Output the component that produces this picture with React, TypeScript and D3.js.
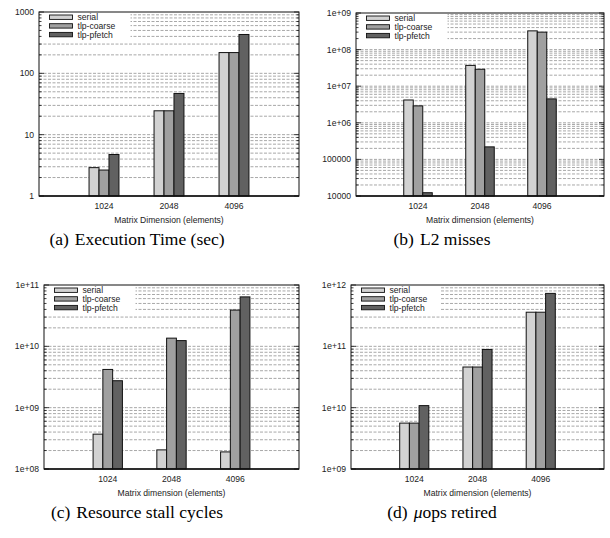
import React from "react";
import * as d3 from "d3";

const categories = ["1024", "2048", "4096"];
const seriesNames = ["serial", "tlp-coarse", "tlp-pfetch"];
const seriesFill = ["#d2d2d2", "#a0a0a0", "#616161"];

// (a) execution time in seconds
const execSerial = [2.9, 24.5, 218];
const execCoarse = [2.65, 24.5, 218];
const execPfetch = [4.75, 47, 430];

// (b) L2 misses
const l2Serial = [4.2e6, 3.7e7, 3.25e8];
const l2Coarse = [2.9e6, 2.9e7, 3.0e8];
const l2Pfetch = [1.23e4, 2.2e5, 4.5e6];

// (c) resource stall cycles
const stallSerial = [3.7e8, 2.05e8, 1.9e8];
const stallCoarse = [4.2e9, 1.36e10, 3.9e10];
const stallPfetch = [2.75e9, 1.24e10, 6.4e10];

// (d) uops retired
const uopsSerial = [5.6e9, 4.6e10, 3.6e11];
const uopsCoarse = [5.6e9, 4.6e10, 3.6e11];
const uopsPfetch = [1.08e10, 8.9e10, 7.3e11];

const panels = [
  {
    tag: "(a)", caption: "Execution Time (sec)", xLabel: "Matrix Dimension (elements)",
    domain: [1, 1000], series: [execSerial, execCoarse, execPfetch],
    left: 39, right: 299, top: 12, bottom: 196, legendRight: 130, capX: 137, capY: 245,
  },
  {
    tag: "(b)", caption: "L2 misses", xLabel: "Matrix dimension (elements)",
    domain: [1e4, 1e9], series: [l2Serial, l2Coarse, l2Pfetch],
    left: 356, right: 604, top: 13, bottom: 196, legendRight: 447, capX: 442, capY: 245,
  },
  {
    tag: "(c)", caption: "Resource stall cycles", xLabel: "Matrix dimension (elements)",
    domain: [1e8, 1e11], series: [stallSerial, stallCoarse, stallPfetch],
    left: 44, right: 299, top: 285, bottom: 469, legendRight: 135, capX: 137, capY: 518,
  },
  {
    tag: "(d)", caption: "ops retired", mu: true, xLabel: "Matrix dimension (elements)",
    domain: [1e9, 1e12], series: [uopsSerial, uopsCoarse, uopsPfetch],
    left: 351, right: 604, top: 285, bottom: 469, legendRight: 440, capX: 442, capY: 518,
  },
];

// gnuplot style %g labels
const gnuFmt = (v: number) => {
  if (v < 1e6) return String(Math.round(v));
  const e = Math.round(Math.log10(v));
  return `${Math.round(v / 10 ** e)}e+${String(e).padStart(2, "0")}`;
};

const sans = "'Liberation Sans', Arial, Helvetica, sans-serif";
const serif = "'Liberation Serif', 'Times New Roman', serif";

function Panel({ p }: { p: any }) {
  const x = d3.scalePoint<string>().domain(categories).range([p.left, p.right]).padding(1);
  const step = x.step();
  const inner = d3.scaleBand<string>().domain(seriesNames).range([-step * 0.23, step * 0.23]);
  const y = d3.scaleLog().domain(p.domain).range([p.bottom, p.top]);
  const ticks = y.ticks();
  const isMajor = (t: number) => Math.abs(Math.log10(t) - Math.round(Math.log10(t))) < 1e-9;
  const legendBottom = p.top + 27;

  return (
    <g>
      {/* grid */}
      {ticks.filter(t => y(t) > p.top + 0.5 && y(t) < p.bottom - 0.5).map((t, i) => (
        <line key={"g" + i} x1={p.left} x2={p.right} y1={y(t)} y2={y(t)}
          stroke="#929292" strokeWidth={0.8} strokeDasharray="3,1.5" />
      ))}
      {/* legend background */}
      <rect x={p.left + 0.5} y={p.top + 0.5} width={p.legendRight - p.left} height={legendBottom - p.top} fill="#fff" />
      {/* bars */}
      {p.series.map((vals: number[], si: number) =>
        vals.map((v, ci) => {
          const bx = (x(categories[ci]) ?? 0) + (inner(seriesNames[si]) ?? 0);
          return (
            <rect key={`b${si}-${ci}`} x={bx} y={y(v)} width={inner.bandwidth()} height={p.bottom - y(v)}
              fill={seriesFill[si]} stroke="#111" strokeWidth={1} />
          );
        })
      )}
      {/* legend */}
      {seriesNames.map((s, i) => {
        const cy = p.top + 5.2 + i * 8.7;
        return (
          <g key={"l" + s}>
            <rect x={p.left + 10.5} y={cy - 2.2} width={23} height={4.4} fill={seriesFill[i]} stroke="#111" strokeWidth={0.9} />
            <text x={p.left + 38.5} y={cy + 3} fontFamily={sans} fontSize={8.6} fill="#222">{s}</text>
          </g>
        );
      })}
      {/* y ticks, mirrored */}
      {ticks.map((t, i) => {
        const len = isMajor(t) ? 5 : 2.5;
        return (
          <g key={"t" + i}>
            <line x1={p.left} x2={p.left + len} y1={y(t)} y2={y(t)} stroke="#111" strokeWidth={0.8} />
            <line x1={p.right - len} x2={p.right} y1={y(t)} y2={y(t)} stroke="#111" strokeWidth={0.8} />
          </g>
        );
      })}
      {ticks.filter(isMajor).map((t, i) => (
        <text key={"yl" + i} x={p.left - 5} y={y(t) + 3} textAnchor="end" fontFamily={sans} fontSize={8.6} fill="#222">
          {gnuFmt(t)}
        </text>
      ))}
      {/* frame */}
      <rect x={p.left} y={p.top} width={p.right - p.left} height={p.bottom - p.top} fill="none" stroke="#111" strokeWidth={1} />
      <line x1={p.left} x2={p.right} y1={p.bottom} y2={p.bottom} stroke="#111" strokeWidth={1.6} />
      {/* x axis */}
      {categories.map(c => (
        <text key={"xl" + c} x={x(c)} y={p.bottom + 12.5} textAnchor="middle" fontFamily={sans} fontSize={8.6} fill="#222">{c}</text>
      ))}
      <text x={(p.left + p.right) / 2} y={p.bottom + 26.5} textAnchor="middle" fontFamily={sans} fontSize={8.6} fill="#222">
        {p.xLabel}
      </text>
      {/* caption */}
      <text x={p.capX} y={p.capY} textAnchor="middle" fontFamily={serif} fontSize={17.5} fill="#000">
        <tspan>{p.tag}</tspan>
        <tspan dx={6}>{p.mu ? <tspan fontStyle="italic">μ</tspan> : null}{p.caption}</tspan>
      </text>
    </g>
  );
}

export default function App() {
  return (
    <svg width={610} height={538} style={{ position: "absolute", left: 0, top: 0, background: "#fff" }}>
      <rect width={610} height={538} fill="#fff" />
      {panels.map(p => <Panel key={p.tag} p={p} />)}
    </svg>
  );
}
